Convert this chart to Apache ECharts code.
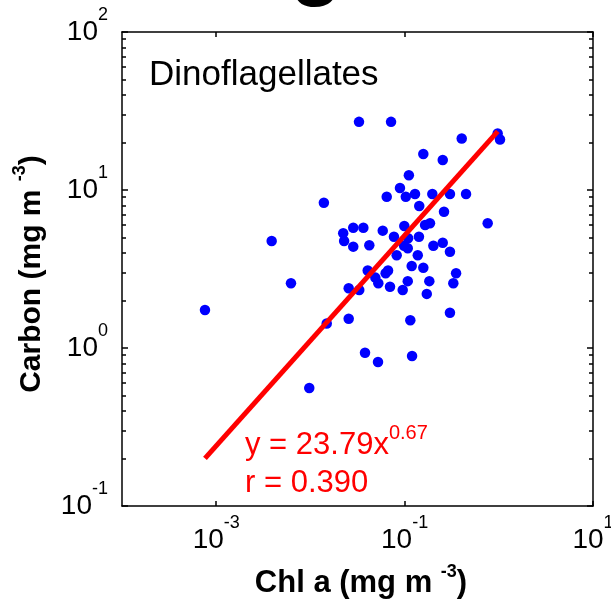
<!DOCTYPE html>
<html>
<head>
<meta charset="utf-8">
<script src="https://cdn.jsdelivr.net/npm/echarts@6/dist/echarts.min.js"></script>
<style>
html,body{margin:0;padding:0;background:#fff;}
#chart{width:611px;height:603px;}
</style>
</head>
<body>
<div id="chart"></div>
<script>
// Chl a (mg m^-3)
var chlA = [0.0328, 0.0718, 0.973, 1.03, 0.404, 0.158, 0.254, 0.111, 0.0893, 0.0646,
  0.103, 0.129, 0.197, 0.303, 0.449, 0.0139, 0.143, 0.262, 0.762, 0.165,
  0.186, 0.0285, 0.0365, 0.0586, 0.0993, 0.0223, 0.0228, 0.00388, 0.0285, 0.0422,
  0.0771, 0.109, 0.142, 0.0987, 0.108, 0.202, 0.254, 0.303, 0.0824, 0.138,
  0.119, 0.158, 0.0406, 0.0629, 0.0667, 0.352, 0.0489, 0.0526, 0.00622, 0.070,
  0.108, 0.183, 0.329, 0.0255, 0.0330, 0.0955, 0.172, 0.0149, 0.0255, 0.303,
  0.115, 0.038, 0.0522, 0.120, 0.00973, 0.00076];
// Carbon (mg m^-3)
var carbon = [27.0, 27.0, 22.8, 20.9, 21.2, 16.9, 15.5, 12.4, 10.3, 9.07,
  9.07, 9.43, 9.43, 9.43, 9.43, 8.31, 7.92, 7.29, 6.16, 6.00,
  6.16, 5.77, 5.77, 5.53, 5.92, 5.32, 4.76, 4.76, 4.38, 4.47,
  5.06, 4.95, 5.06, 4.44, 4.28, 4.44, 4.64, 4.07, 3.86, 3.86,
  3.30, 3.22, 3.09, 2.97, 3.09, 2.97, 2.79, 2.57, 2.57, 2.44,
  2.65, 2.65, 2.57, 2.39, 2.33, 2.33, 2.20, 1.43, 1.53, 1.67,
  1.50, 0.933, 0.815, 0.889, 0.558, 1.74];
// fitted power law line end points
var fitX = [0.00076, 0.975];
var fitY = [0.20, 23.5];
// axis ticks (decade exponents)
var xTickExponents = [-3, -1, 1];
var yTickExponents = [-1, 0, 1, 2];
var minorMultipliers = [2, 3, 4, 5, 6, 7, 8, 9];
var groupLabel = 'Dinoflagellates';
var fitEquation = ['y = 23.79x', '0.67'];
var fitR = 'r = 0.390';

var FONT = 'Liberation Sans, Arial, Helvetica, sans-serif';

var scatterData = chlA.map(function (v, i) { return [v, carbon[i]]; });
var lineData = fitX.map(function (v, i) { return [v, fitY[i]]; });

// minor tick positions in decade (log10) units for the y axis
var yMinorTicks = [];
for (var d = 0; d < yTickExponents.length - 1; d++) {
  minorMultipliers.forEach(function (m) { yMinorTicks.push(yTickExponents[d] + Math.log10(m)); });
}

var tickRich = {
  b: {fontSize: 28, fontFamily: FONT, color: '#000', height: 28, lineHeight: 40, verticalAlign: 'bottom'},
  s: {fontSize: 18, fontFamily: FONT, color: '#000', height: 18, lineHeight: 40, verticalAlign: 'top'}
};
function decadeLabel(exp) { return '{b|10}{s|' + exp + '}'; }

var axisLineStyle = {color: '#000', width: 1.5};
var tickLine = {color: '#000', width: 1.5};

function minorYAxis(pos) {
  return {
    type: 'value', min: yTickExponents[0], max: yTickExponents[yTickExponents.length - 1], position: pos,
    axisLine: {show: false, onZero: false},
    axisTick: {show: true, inside: true, length: 4, customValues: yMinorTicks, lineStyle: tickLine},
    axisLabel: {show: false},
    splitLine: {show: false}
  };
}

var chart = echarts.init(document.getElementById('chart'), null, {renderer: 'canvas'});
chart.setOption({
  animation: false,
  backgroundColor: '#fff',
  grid: {left: 122, right: 18, top: 32, bottom: 97, containLabel: false, outerBoundsMode: 'none'},
  xAxis: [
    {type: 'log', logBase: 10, min: 1e-4, max: 10, show: false},
    {
      type: 'value', min: -4, max: 1, position: 'bottom',
      axisLine: {show: true, onZero: false, lineStyle: axisLineStyle},
      axisTick: {show: true, inside: true, length: 5, customValues: xTickExponents, lineStyle: tickLine},
      axisLabel: {show: true, margin: 8, customValues: xTickExponents, formatter: function (v) { return decadeLabel(v); }, rich: tickRich},
      splitLine: {show: false}
    },
    {
      type: 'value', min: -4, max: 1, position: 'top',
      axisLine: {show: true, onZero: false, lineStyle: axisLineStyle},
      axisTick: {show: true, inside: true, length: 5, customValues: xTickExponents, lineStyle: tickLine},
      axisLabel: {show: false},
      splitLine: {show: false}
    }
  ],
  yAxis: [
    {
      type: 'log', logBase: 10, min: 0.1, max: 100, position: 'left',
      axisLine: {show: true, onZero: false, lineStyle: axisLineStyle},
      axisTick: {show: true, inside: true, length: 6, lineStyle: tickLine},
      axisLabel: {
        show: true, margin: 14, padding: [0, 0, 12, 0],
        formatter: function (v) { return decadeLabel(Math.round(Math.log10(v))); },
        rich: tickRich
      },
      splitLine: {show: false}
    },
    {
      type: 'log', logBase: 10, min: 0.1, max: 100, position: 'right',
      axisLine: {show: true, onZero: false, lineStyle: axisLineStyle},
      axisTick: {show: true, inside: true, length: 6, lineStyle: tickLine},
      axisLabel: {show: false},
      splitLine: {show: false}
    },
    minorYAxis('left'),
    minorYAxis('right')
  ],
  series: [
    {
      type: 'scatter', xAxisIndex: 0, yAxisIndex: 0,
      symbol: 'circle', symbolSize: 10.5,
      itemStyle: {color: '#0000ff', opacity: 1},
      data: scatterData
    },
    {
      type: 'line', xAxisIndex: 0, yAxisIndex: 0,
      symbol: 'none', lineStyle: {color: '#ff0000', width: 5, cap: 'butt'},
      data: lineData, z: 5
    }
  ],
  graphic: [
    {
      type: 'text', x: 316, y: -33, silent: true,
      style: {text: 'g', font: 'bold 84px ' + FONT, fill: '#000', align: 'center', verticalAlign: 'middle'}
    },
    {
      type: 'text', x: 149, y: 75, silent: true,
      style: {text: groupLabel, font: '35px ' + FONT, fill: '#000', align: 'left', verticalAlign: 'middle'}
    },
    {
      type: 'text', x: 245, y: 423, silent: true, z: 10,
      style: {
        text: '{b|' + fitEquation[0] + '}{s|' + fitEquation[1] + '}',
        align: 'left', verticalAlign: 'top',
        rich: {
          b: {fontSize: 31, fontFamily: FONT, fill: '#ff0000', height: 31, lineHeight: 38, verticalAlign: 'bottom'},
          s: {fontSize: 20, fontFamily: FONT, fill: '#ff0000', height: 20, lineHeight: 38, verticalAlign: 'top'}
        }
      }
    },
    {
      type: 'text', x: 245, y: 483, silent: true, z: 10,
      style: {text: fitR, font: '31px ' + FONT, fill: '#ff0000', align: 'left', verticalAlign: 'middle'}
    },
    {
      type: 'text', x: 361, y: 581, silent: true,
      style: {
        text: '{b|Chl a (mg m }{s|-3}{b|)}',
        align: 'center', verticalAlign: 'middle',
        rich: {
          b: {fontSize: 31, fontWeight: 'bold', fontFamily: FONT, fill: '#000', height: 31, lineHeight: 35, verticalAlign: 'bottom'},
          s: {fontSize: 18, fontWeight: 'bold', fontFamily: FONT, fill: '#000', height: 18, lineHeight: 35, verticalAlign: 'top'}
        }
      }
    },
    {
      type: 'text', x: 29, y: 274, rotation: Math.PI / 2, silent: true,
      style: {
        text: '{b|Carbon (mg m }{s|-3}{b|)}',
        align: 'center', verticalAlign: 'middle',
        rich: {
          b: {fontSize: 30, fontWeight: 'bold', fontFamily: FONT, fill: '#000', height: 30, lineHeight: 36, verticalAlign: 'bottom'},
          s: {fontSize: 18, fontWeight: 'bold', fontFamily: FONT, fill: '#000', height: 18, lineHeight: 36, verticalAlign: 'top'}
        }
      }
    }
  ]
});
</script>
</body>
</html>
